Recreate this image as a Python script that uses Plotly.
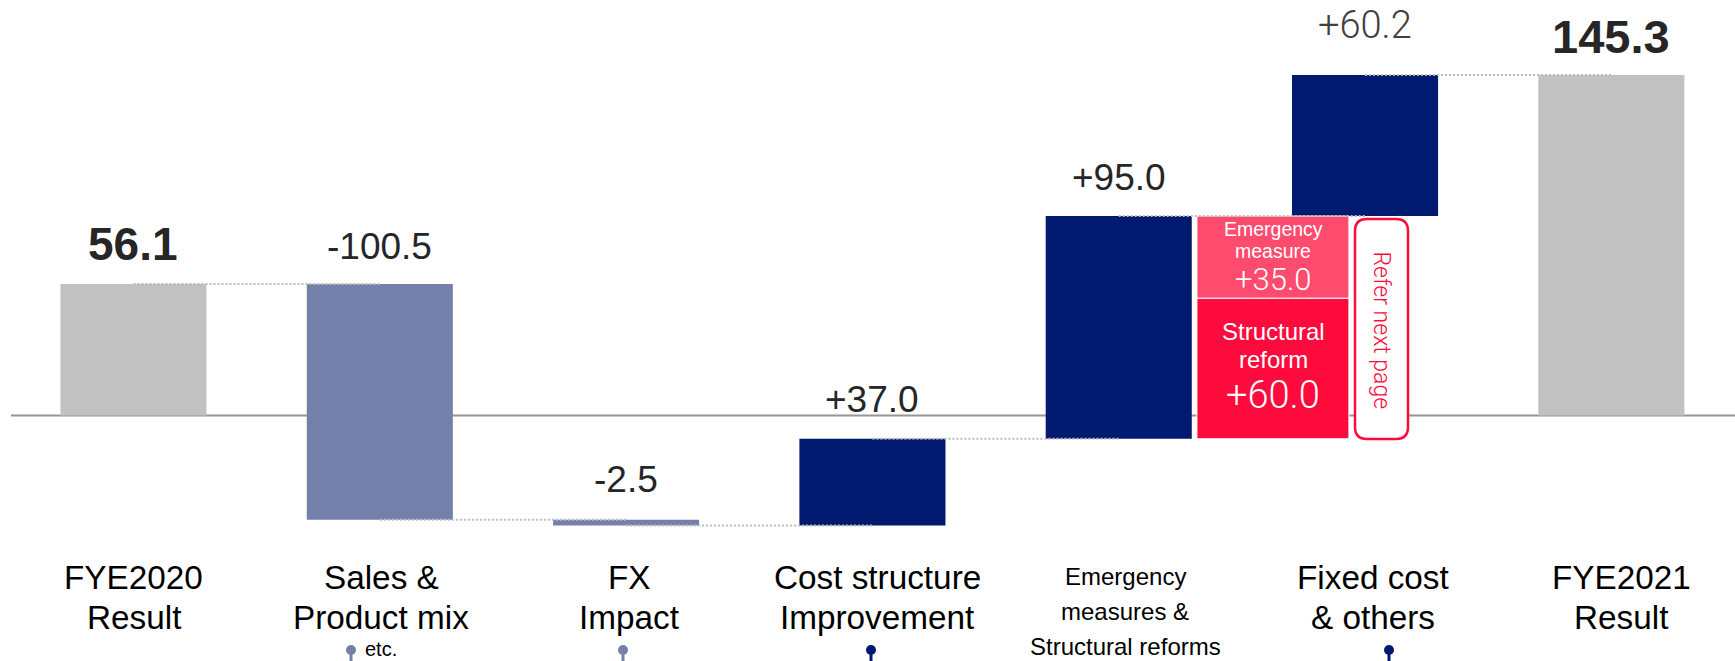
import plotly.graph_objects as go

# Bridge from FYE2020 result to FYE2021 result
steps = ["FYE2020", "Sales", "FX", "Cost", "Measures", "Fixed", "FYE2021"]
values = [56.1, -100.5, -2.5, 37.0, 95.0, 60.2, 145.3]
value_labels = ["56.1", "-100.5", "-2.5", "+37.0", "+95.0", "+60.2", "145.3"]
category_lines = [
    ["FYE2020", "Result"],
    ["Sales &", "Product mix"],
    ["FX", "Impact"],
    ["Cost structure", "Improvement"],
    [],
    ["Fixed cost", "& others"],
    ["FYE2021", "Result"],
]
measure_lines = ["Emergency", "measures &", "Structural reforms"]
structural_value = 60.0
emergency_value = 35.0

W, H = 1735, 661
GRAY, LIGHT, NAVY = "#C1C1C1", "#7480AA", "#001A70"
RED, PINK = "#FF0A3C", "#FF4B6E"
SANS = "Liberation Sans"
THIN = "Roboto"


def fx(px):
    return px / W


def fy(px):
    return 1 - px / H


# Running level of the bridge: totals start at zero, steps float
bases, tops = [], []
level = 0.0
for i, v in enumerate(values):
    if i in (0, len(values) - 1):
        bases.append(0.0)
        tops.append(v)
        level = v
    else:
        bases.append(level if v >= 0 else level + v)
        tops.append(level + v if v >= 0 else level)
        level += v
ends = [values[0]]
for v in values[1:-1]:
    ends.append(ends[-1] + v)

colors = [GRAY, LIGHT, LIGHT, NAVY, NAVY, NAVY, GRAY]

fig = go.Figure()

fig.add_trace(go.Bar(
    x=list(range(len(steps))),
    y=[t - b for t, b in zip(tops, bases)],
    base=bases,
    width=0.593,
    marker=dict(color=colors, line=dict(width=0)),
    hoverinfo="skip",
))

# Breakdown of the measures step, stacked from the same starting level
measure_base = bases[4]
fig.add_trace(go.Bar(
    x=[4.626, 4.626],
    y=[structural_value, emergency_value],
    base=[measure_base, measure_base + structural_value],
    width=0.617,
    marker=dict(color=[RED, PINK], line=dict(color="white", width=1)),
    hoverinfo="skip",
))

# Dotted connectors running centre to centre between neighbouring bars
for i, lvl in enumerate(ends):
    fig.add_trace(go.Scatter(
        x=[i, i + 1], y=[lvl, lvl], mode="lines",
        line=dict(color="#BBBBBB", width=2, dash="2px,2px"),
        hoverinfo="skip",
    ))

annotations = []


def note(text, px, py, size, color="black", family=SANS, weight=None, angle=0):
    annotations.append(dict(
        text=text, xref="paper", yref="paper", x=fx(px), y=fy(py),
        xanchor="center", yanchor="middle", showarrow=False, textangle=angle,
        font=dict(family=family, size=size, color=color, weight=weight),
    ))


# Values sit above their bars
shifts = [40, 38, 40, 39, 39, 50, 38]
for i, (label, top, shift) in enumerate(zip(value_labels, tops, shifts)):
    bold = i in (0, 6)
    thin = i == 5
    annotations.append(dict(
        text=label, x=i, y=top, xref="x", yref="y", showarrow=False,
        xanchor="center", yanchor="middle", yshift=shift,
        xshift=-1 if i == 0 else 0,
        font=dict(
            family=THIN if thin else SANS,
            size=46 if i == 0 else (47 if bold else (38 if thin else 37)),
            color="#404040" if thin else "#262626",
            weight=700 if bold else (300 if thin else 400),
        ),
    ))

# Category captions, one annotation per line for the tight leading
centres = [133.5, 381, 629, 877, 1125, 1373, 1621]
for cx, lines in zip(centres, category_lines):
    for j, line in enumerate(lines):
        note(line, cx, 577 + 40 * j, 33.3)
for j, line in enumerate(measure_lines):
    note(line, centres[4], 576 + 35 * j, 24)
note("etc.", 381, 648.5, 20)

# Text inside the breakdown blocks
note("Emergency", 1273, 229, 19.5, "white")
note("measure", 1273, 251, 19.5, "white")
note("+35.0", 1273, 279, 31, "white", THIN, 300)
note("Structural", 1273, 331, 24, "white")
note("reform", 1273, 359, 24, "white")
note("+60.0", 1273, 395, 38, "white", THIN, 300)
note("Refer next page", 1381.5, 330, 23, RED, THIN, 300, angle=90)

shapes = [dict(
    type="line", xref="paper", yref="y", x0=fx(11), x1=1, y0=0, y1=0,
    line=dict(color="#969696", width=2), layer="below",
)]

# Rounded call-out beside the breakdown
x0, x1, y0, y1, r = fx(1355), fx(1408), fy(219), fy(439), 12
rx, ry = r / W, r / H
shapes.append(dict(
    type="path", xref="paper", yref="paper",
    path=(f"M {x0+rx} {y0} L {x1-rx} {y0} Q {x1} {y0} {x1} {y0-ry} "
          f"L {x1} {y1+ry} Q {x1} {y1} {x1-rx} {y1} L {x0+rx} {y1} "
          f"Q {x0} {y1} {x0} {y1+ry} L {x0} {y0-ry} Q {x0} {y0} {x0+rx} {y0} Z"),
    line=dict(color=RED, width=2.5), fillcolor="white",
))

# Pin markers along the lower edge
for px, color in [(351, LIGHT), (623, LIGHT), (871, NAVY), (1389, NAVY)]:
    shapes.append(dict(
        type="line", xref="paper", yref="paper", x0=fx(px), x1=fx(px),
        y0=fy(652), y1=0, line=dict(color=color, width=3),
    ))
    shapes.append(dict(
        type="circle", xref="paper", yref="paper",
        x0=fx(px - 5), x1=fx(px + 5), y0=fy(655), y1=fy(645),
        fillcolor=color, line=dict(width=0),
    ))

fig.update_layout(
    width=W, height=H, autosize=False,
    margin=dict(l=0, r=0, t=0, b=0),
    paper_bgcolor="white", plot_bgcolor="white",
    showlegend=False, barmode="overlay",
    xaxis=dict(range=[-0.542, 6.502], visible=False, fixedrange=True),
    yaxis=dict(range=[-104.7, 177.26], visible=False, fixedrange=True),
    annotations=annotations, shapes=shapes,
)

fig.write_html("out.html", config=dict(displayModeBar=False))
